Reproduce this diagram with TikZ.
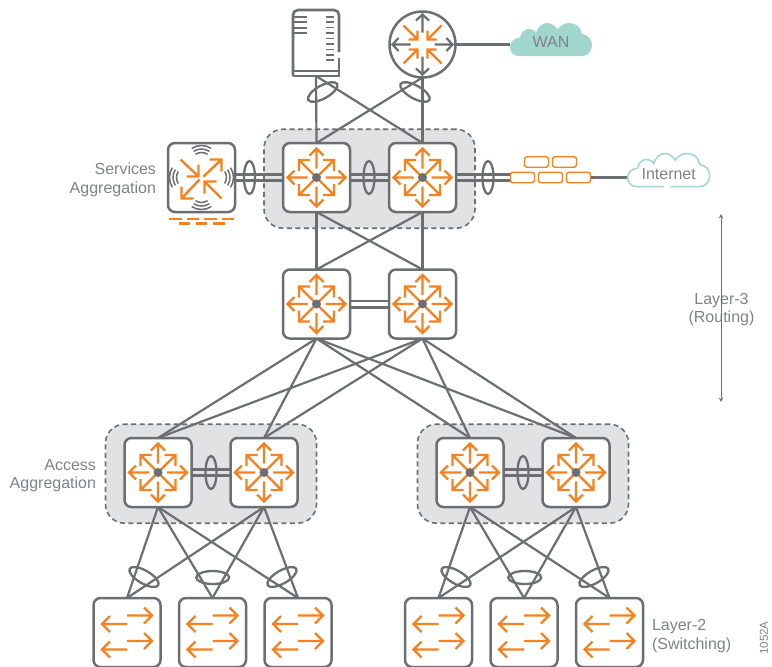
\documentclass[tikz,border=0pt]{standalone}
\usepackage{fontspec}
\setmainfont{Liberation Sans}
\usepackage{tikz}
\usetikzlibrary{shapes.geometric,positioning,backgrounds,fit}
\definecolor{netgray}{HTML}{6D6E71}
\definecolor{netorange}{HTML}{F58220}
\definecolor{netteal}{HTML}{A0D6CB}
\definecolor{netshade}{HTML}{E1E2E4}
\definecolor{nettext}{HTML}{808285}
\def\cloudleft{(8.5,0) .. controls (3.5,0) and (0,-4) .. (0,-9) .. controls (0,-14) and (4,-18) .. (10,-18.5)}
\def\cloudtop{.. controls (11,-24) and (15,-27) .. (19,-27) .. controls (22,-27) and (24,-26) .. (26,-23) .. controls (28,-29) and (32,-33) .. (37,-33) .. controls (42,-33) and (45,-30) .. (47.5,-26.5) .. controls (50,-30) and (54,-33) .. (59,-33) .. controls (66,-33) and (71,-29) .. (72,-22) .. controls (78,-21) and (82,-17) .. (82,-11) .. controls (82,-5) and (78,0) .. (72,0)}
\begin{document}
\begin{tikzpicture}[
            x=1pt,
            y=-1pt,
            line width=2.5pt,
            every node/.style={text=nettext, font=\fontsize{16}{18.5}\selectfont},
            block/.style={
                rectangle,
                rounded corners=7pt,
                minimum width = 67pt,
                minimum height = 69pt,
                inner sep = 0pt,
                outer sep = 0pt,
                draw=netgray,
                fill=white
            },
            lthree/.style={
                block,
            },
            ltwo/.style={
                block,
            },
            grpbox/.style={
                rectangle,
                rounded corners=19pt,
                draw=netgray,
                fill=netshade,
                line width=1.6pt,
                dash pattern=on 5pt off 3.5pt,
                inner xsep=19pt,
                inner ysep=15pt,
                outer sep=0pt,
                yshift=-1.2pt
            },
            link/.style={
                draw=netgray,
                line width=2.2pt
            },
            duallink/.style={
                link,
                line width=2.6pt
            },
            lag/.style={
                ellipse,
                draw=netgray,
                line width=2.3pt,
                inner sep=0pt,
                outer sep=0pt,
                minimum width=33pt,
                minimum height=13pt
            },
            brick/.style={
                rectangle,
                rounded corners=2.5pt,
                draw=netorange,
                fill=white,
                line width=1.4pt,
                minimum width=24pt,
                minimum height=10.5pt,
                inner sep=0pt,
                outer sep=0pt
            },
            lbl/.style={
                inner sep=0pt,
                outer sep=0pt
            },
            orangeline/.style={
                draw=netorange,
                line width=2.4pt
            },
            lthreeicon/.pic={
                \foreach \r in {0,90,180,270} {
                    \draw[orangeline, rotate=\r] (9,0) -- (29,0) (22,-7) -- (29,0) -- (22,7);
                    \draw[orangeline, rotate=\r] (3,3) -- (17.5,17.5) (6.5,17.5) -- (17.5,17.5) -- (17.5,6.5);
                }
                \fill[netgray] (0,0) circle (4.5pt);
            },
            routericon/.pic={
                \foreach \r in {0,90,180,270} {
                    \draw[link, rotate=\r] (12,0) -- (30,0) (24,-6.5) -- (30,0) -- (24,6.5);
                    \draw[orangeline, rotate=\r] (19,19) -- (5,5) (14,5) -- (5,5) -- (5,14);
                }
            },
            ltwoicon/.pic={
                \foreach \y in {-17,8.5} {
                    \draw[orangeline] (0,\y) -- (25,\y) (17,\y-8) -- (25,\y) -- (17,\y+8);
                    \draw[orangeline] (0,\y+8.5) -- (-25,\y+8.5) (-17,\y+0.5) -- (-25,\y+8.5) -- (-17,\y+16.5);
                }
            },
            wlanicon/.pic={
                \draw[orangeline] (-21,-18) -- (-3,-1) (-15,-1) -- (-3,-1) -- (-3,-13);
                \draw[orangeline] (2,-1) -- (20,-18) (8,-18) -- (20,-18) -- (20,-6);
                \draw[orangeline] (-2,2) -- (-20,21) (-8,21) -- (-20,21) -- (-20,9);
                \draw[orangeline] (20,21) -- (3,4) (15,4) -- (3,4) -- (3,16);
                \foreach \r in {0,90,180,270} {
                    \foreach \R in {11,14.5,18} {
                        \draw[link, line width=1.5pt, rotate=\r, shift={(14,0)}] (-33:\R) arc (-33:33:\R);
                    }
                }
                \draw[orangeline, dash pattern=on 12.7pt off 4.8pt] (-32.5,41.5) -- (32.5,41.5);
                \draw[orangeline, dash pattern=on 11.6pt off 5.6pt] (-23,45.8) -- (23.5,45.8);
            },
        ]

            \clip (0,0) rectangle (772,667);

            \node[lthree] (core1) at (316.5,177.5) {};
            \node[lthree] (core2) [right=39pt of core1] {};
            \node[block] (wlan) at (201.5,177.5) {};

            \node[lthree] (mid1) at (316.5,304) {};
            \node[lthree] (mid2) [right=39pt of mid1] {};

            \node[lthree] (acc1) at (158,472.5) {};
            \node[lthree] (acc2) [right=39pt of acc1] {};
            \node[lthree] (acc3) at (470,472.5) {};
            \node[lthree] (acc4) [right=39pt of acc3] {};

            \node[ltwo] (sw1) at (127,632.5) {};
            \node[ltwo] (sw2) [right=18.5pt of sw1] {};
            \node[ltwo] (sw3) [right=18.5pt of sw2] {};
            \node[ltwo] (sw4) at (438.5,632.5) {};
            \node[ltwo] (sw5) [right=18.5pt of sw4] {};
            \node[ltwo] (sw6) [right=18.5pt of sw5] {};

            \foreach \n in {core1,core2,mid1,mid2,acc1,acc2,acc3,acc4} {
                \pic at (\n) {lthreeicon};
            }
            \foreach \n in {sw1,sw2,sw3,sw4,sw5,sw6} {
                \pic at (\n) {ltwoicon};
            }
            \pic at (wlan) {wlanicon};

            \node[circle, draw=netgray, fill=white, minimum size=66pt, inner sep=0pt, outer sep=0pt] (router) at (422.5,44.5) {};
            \pic at (router) {routericon};

            \node[rectangle, inner sep=0pt, outer sep=0pt, minimum width=45pt, minimum height=66pt] (server) at (316,43) {};
            \draw[duallink, rounded corners=5pt] (339,52) -- (339,10) -- (293,10) -- (293,76);
            \draw[duallink] (293,76) -- (339,76) -- (339,58) (293,71) -- (339,71);
            \foreach \y in {16.7,22.3,27.7,33} {
                \draw[link, line width=1.7pt] (293,\y) -- (307,\y);
            }
            \foreach \y in {16.7,22.2,27.6,33,38.5,44,49.5,55,60} {
                \draw[link, line width=1.7pt] (325.5,\y) -- (333.5,\y);
            }

            \node[brick] (fw1) at (522.5,177.5) {};
            \node[brick] (fw2) [right=4pt of fw1] {};
            \node[brick] (fw3) [right=4pt of fw2] {};
            \node[brick] (fw4) at (536.5,162) {};
            \node[brick] (fw5) [right=4pt of fw4] {};

            \begin{scope}[shift={(510,56)}]
                \fill[netteal] \cloudleft \cloudtop -- cycle;
            \end{scope}
            \node[minimum width=82pt, minimum height=33pt, inner sep=0pt, outer sep=0pt] (wan) at (551,42) {WAN};

            \begin{scope}[shift={(627.7,186.5)}]
                \draw[netteal, line width=1.5pt] (36,0) -- \cloudleft \cloudtop -- (43,0);
            \end{scope}
            \node[minimum width=82pt, minimum height=33pt, inner sep=0pt, outer sep=0pt] (inet) at (668.7,174.5) {Internet};

            \begin{scope}[on background layer]
                \node[grpbox, fit=(core1)(core2)] (coregrp) {};
                \node[grpbox, fit=(acc1)(acc2)] (accgrp1) {};
                \node[grpbox, fit=(acc3)(acc4)] (accgrp2) {};

                \foreach \a/\b in {server/core1,server/core2,router/core1,router/core2} {
                    \draw[link] (\a.south) -- (\b.north);
                }
                \foreach \a in {core1,core2} {
                    \foreach \b in {mid1,mid2} {
                        \draw[link] (\a.south) -- (\b.north);
                    }
                }
                \foreach \a in {mid1,mid2} {
                    \foreach \b in {acc1,acc2,acc3,acc4} {
                        \draw[link] (\a.south) -- (\b.north);
                    }
                }
                \foreach \a in {acc1,acc2} {
                    \foreach \b in {sw1,sw2,sw3} {
                        \draw[link] (\a.south) -- (\b.north);
                    }
                }
                \foreach \a in {acc3,acc4} {
                    \foreach \b in {sw4,sw5,sw6} {
                        \draw[link] (\a.south) -- (\b.north);
                    }
                }
                \foreach \a/\b in {wlan/core1,core1/core2,mid1/mid2,acc1/acc2,acc3/acc4,core2/fw1} {
                    \draw[duallink] ([yshift=3.2pt]\a.east) -- ([yshift=3.2pt]\b.west);
                    \draw[duallink] ([yshift=-3.2pt]\a.east) -- ([yshift=-3.2pt]\b.west);
                }
                \draw[duallink] (router.east) -- (router.east -| wan.west);
                \draw[duallink] (fw3.east) -- (fw3.east -| inet.west);
            \end{scope}

            \node[lag, rotate=29] (lag1) at (322.7,92) {};
            \node[lag, rotate=-29] (lag2) at (415,92) {};
            \node[lag, minimum width=11pt, minimum height=33pt] (lag3) at (249.5,177.5) {};
            \node[lag, minimum width=11pt, minimum height=33pt] (lag4) at (369,177.5) {};
            \node[lag, minimum width=11pt, minimum height=33pt] (lag5) at (488,177.5) {};
            \node[lag, minimum width=11pt, minimum height=33pt] (lag6) at (211,472.5) {};
            \node[lag, minimum width=11pt, minimum height=33pt] (lag7) at (523,472.5) {};

            \foreach \d/\nm in {0/a,312/b} {
                \node[lag, rotate=-30] (lag8\nm) at (144+\d,577) {};
                \node[lag] (lag9\nm) at (212.7+\d,577.5) {};
                \node[lag, rotate=30] (lag10\nm) at (282+\d,577) {};
            }

            \node[lbl, align=right, anchor=east] (services) at (156,180) {Services\\Aggregation};
            \node[lbl, align=right, anchor=east] (access) at (96,475.5) {Access\\Aggregation};
            \node[lbl, align=left, anchor=west] (switching) at (652,636) {Layer-2\\(Switching)};
            \node[lbl, align=center] (routing) at (721.5,309.5) {Layer-3\\(Routing)};
            \node[lbl, rotate=90, font=\fontsize{11.5}{13}\selectfont] (figid) at (764,638) {1052A};

            \coordinate (l3up) at (721,214);
            \coordinate (l3down) at (721,402);
            \draw[<->, >=stealth, draw=netgray, line width=1pt] (l3up) -- (l3down);
        \end{tikzpicture}
\end{document}
